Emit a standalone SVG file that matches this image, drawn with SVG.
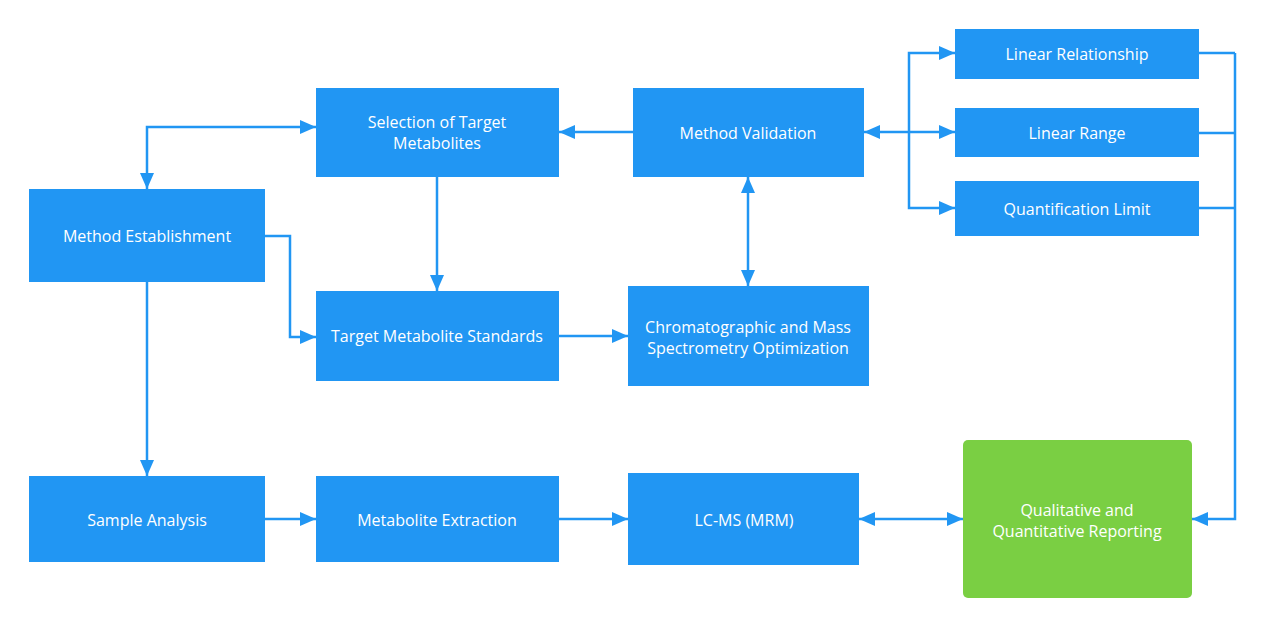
<svg xmlns="http://www.w3.org/2000/svg" width="1265" height="628" viewBox="0 0 1265 628">
<defs>
<marker id="ah" markerUnits="userSpaceOnUse" markerWidth="16" markerHeight="14" viewBox="0 0 16 14" refX="16" refY="7" orient="auto-start-reverse">
<path d="M0,0 L16,7 L0,14 Z" fill="#2196F3"/>
</marker>
<style>
.n{fill:#2196F3}
.g{fill:#7ACF43}
.t{font-family:"Open Sans","Noto Sans","Liberation Sans",sans-serif;font-size:16px;fill:#ffffff;text-anchor:middle;dominant-baseline:central}
.c{fill:none;stroke:#2196F3;stroke-width:2.5}
.a{marker-end:url(#ah)}
.b{marker-start:url(#ah);marker-end:url(#ah)}
</style>
</defs>
<rect width="1265" height="628" fill="#ffffff"/>
<g id="connectors">
<path class="c b" d="M316,127 H147 V189"/>
<path class="c a" d="M265,236 H290 V337 H316"/>
<path class="c a" d="M147,282 V476"/>
<path class="c a" d="M437,177 V291"/>
<path class="c a" d="M633,132 H559"/>
<path class="c b" d="M748,177 V286"/>
<path class="c b" d="M864,132 H955"/>
<path class="c a" d="M909,132 V53 H955"/>
<path class="c a" d="M909,132 V208 H955"/>
<path class="c" d="M1199,53 H1235 M1199,133 H1235 M1199,208 H1235"/>
<path class="c a" d="M1235,53 V519 H1192"/>
<path class="c a" d="M559,336 H628"/>
<path class="c a" d="M265,519 H316"/>
<path class="c a" d="M559,519 H628"/>
<path class="c b" d="M859,519 H963"/>
</g>
<g id="method-establishment"><rect class="n" x="29" y="189" width="236" height="93"/><text class="t" x="147" y="236">Method Establishment</text></g>
<g id="selection"><rect class="n" x="316" y="88" width="243" height="89"/><text class="t" x="437" y="122">Selection of Target</text><text class="t" x="437" y="143">Metabolites</text></g>
<g id="method-validation"><rect class="n" x="633" y="88" width="231" height="89"/><text class="t" x="748" y="133">Method Validation</text></g>
<g id="standards"><rect class="n" x="316" y="291" width="243" height="90"/><text class="t" x="437" y="336">Target Metabolite Standards</text></g>
<g id="optimization"><rect class="n" x="628" y="286" width="241" height="100"/><text class="t" x="748" y="327">Chromatographic and Mass</text><text class="t" x="748" y="348">Spectrometry Optimization</text></g>
<g id="linear-relationship"><rect class="n" x="955" y="29" width="244" height="50"/><text class="t" x="1077" y="54">Linear Relationship</text></g>
<g id="linear-range"><rect class="n" x="955" y="108" width="244" height="49"/><text class="t" x="1077" y="133">Linear Range</text></g>
<g id="quantification-limit"><rect class="n" x="955" y="181" width="244" height="55"/><text class="t" x="1077" y="209">Quantification Limit</text></g>
<g id="sample-analysis"><rect class="n" x="29" y="476" width="236" height="86"/><text class="t" x="147" y="520">Sample Analysis</text></g>
<g id="extraction"><rect class="n" x="316" y="476" width="243" height="86"/><text class="t" x="437" y="520">Metabolite Extraction</text></g>
<g id="lcms"><rect class="n" x="628" y="473" width="231" height="92"/><text class="t" x="744" y="520">LC-MS (MRM)</text></g>
<g id="reporting"><rect class="g" x="963" y="440" width="229" height="158" rx="5"/><text class="t" x="1077" y="510">Qualitative and</text><text class="t" x="1077" y="531">Quantitative Reporting</text></g>
</svg>
